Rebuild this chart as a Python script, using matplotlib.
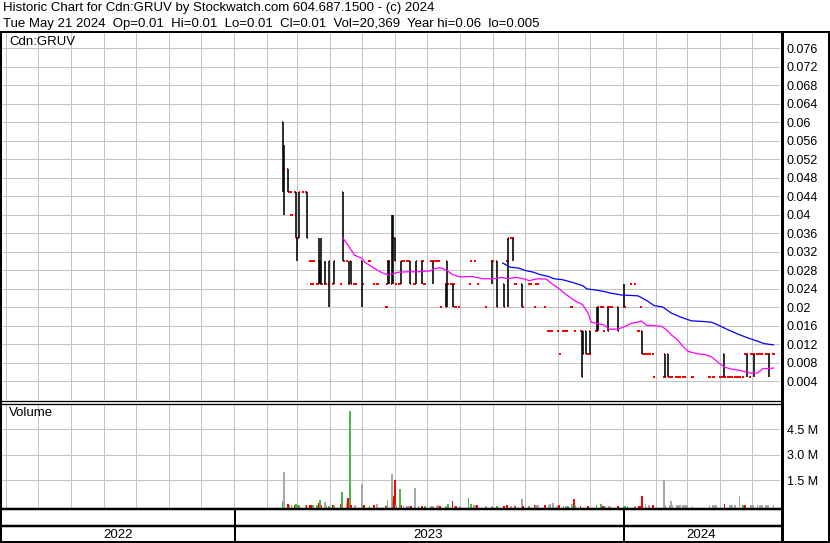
import matplotlib
matplotlib.use('Agg')
import matplotlib.pyplot as plt
import matplotlib.dates as mdates
import pandas as pd
from matplotlib.lines import Line2D

plt.rcParams['font.family'] = ['Liberation Sans', 'DejaVu Sans']

# ---------------- data ----------------
title_line1 = "Historic Chart for Cdn:GRUV by Stockwatch.com 604.687.1500 - (c) 2024"
title_line2 = "Tue May 21 2024  Op=0.01  Hi=0.01  Lo=0.01  Cl=0.01  Vol=20,369  Year hi=0.06  lo=0.005"
symbol = "Cdn:GRUV"
year_labels = ["2022", "2023", "2024"]

# daily bars with a high-low range
bar_dates = ["2023-02-16", "2023-02-17", "2023-02-21", "2023-02-28", "2023-03-01", "2023-03-03",
             "2023-03-10", "2023-03-22", "2023-03-23", "2023-03-24", "2023-03-27", "2023-03-31",
             "2023-04-05", "2023-04-13", "2023-04-19", "2023-04-21", "2023-05-01", "2023-05-25",
             "2023-05-26", "2023-05-29", "2023-05-30", "2023-06-01", "2023-06-07", "2023-06-15",
             "2023-06-21", "2023-06-26", "2023-07-07", "2023-07-19", "2023-07-20", "2023-07-25",
             "2023-08-31", "2023-09-05", "2023-09-11", "2023-09-15", "2023-09-20", "2023-09-28",
             "2023-11-23", "2023-11-24", "2023-11-27", "2023-12-01", "2023-12-07", "2023-12-08",
             "2023-12-18", "2023-12-27", "2024-01-02", "2024-01-19", "2024-02-09", "2024-02-12",
             "2024-04-05", "2024-04-26", "2024-05-03", "2024-05-17"]
bar_open = [.06, .05, .05, .04, .035, .035, .045, .025, .03, .025, .025, .025,
            .025, .045, .025, .03, .03, .025, .03, .025, .035, .035, .025, .03,
            .025, .03, .03, .025, .03, .025, .03, .03, .025, .03, .035, .025,
            .015, .015, .015, .015, .015, .015, .02, .02, .02, .015, .01, .01,
            .01, .01, .01, .01]
bar_high = [.06, .055, .05, .045, .035, .045, .045, .035, .03, .035, .03, .03,
            .03, .045, .03, .03, .03, .03, .03, .04, .04, .035, .03, .03,
            .03, .03, .03, .025, .03, .025, .03, .03, .025, .035, .035, .025,
            .015, .015, .015, .015, .02, .02, .02, .02, .025, .015, .01, .01,
            .01, .01, .01, .01]
bar_low = [.045, .04, .045, .035, .03, .035, .035, .025, .025, .025, .025, .02,
           .025, .03, .025, .025, .02, .025, .025, .025, .025, .03, .025, .025,
           .025, .025, .025, .02, .02, .02, .025, .02, .02, .02, .03, .02,
           .005, .01, .01, .01, .015, .015, .015, .015, .02, .01, .005, .005,
           .005, .005, .005, .005]
bar_close = [.05, .05, .045, .035, .035, .045, .035, .03, .025, .025, .025, .03,
             .03, .03, .025, .025, .025, .03, .03, .035, .035, .03, .03, .025,
             .03, .03, .03, .02, .025, .025, .03, .02, .02, .035, .035, .02,
             .005, .01, .01, .01, .02, .02, .015, .015, .02, .01, .005, .005,
             .005, .01, .01, .01]

# days that traded at a single price
flat_dates = ["2023-02-23", "2023-02-24", "2023-02-27", "2023-03-07", "2023-03-13", "2023-03-14",
              "2023-03-15", "2023-03-16", "2023-03-17", "2023-03-20", "2023-03-28", "2023-04-04",
              "2023-04-11", "2023-04-14", "2023-04-17", "2023-04-24", "2023-04-25", "2023-05-02",
              "2023-05-08", "2023-05-12", "2023-05-15", "2023-05-16", "2023-05-24", "2023-06-02",
              "2023-06-05", "2023-06-09", "2023-06-12", "2023-06-13", "2023-06-14", "2023-06-19",
              "2023-06-20", "2023-06-27", "2023-06-28", "2023-06-29", "2023-07-05", "2023-07-06",
              "2023-07-10", "2023-07-11", "2023-07-12", "2023-07-14", "2023-07-21", "2023-07-24",
              "2023-07-26", "2023-07-27", "2023-07-28", "2023-07-31", "2023-08-10", "2023-08-11",
              "2023-08-15", "2023-08-18", "2023-08-25", "2023-09-01", "2023-09-14", "2023-09-18",
              "2023-09-22", "2023-09-29", "2023-10-05", "2023-10-06", "2023-10-10", "2023-10-11",
              "2023-10-12", "2023-10-13", "2023-10-20", "2023-10-23", "2023-10-24", "2023-10-25",
              "2023-10-26", "2023-11-01", "2023-11-03", "2023-11-06", "2023-11-07", "2023-11-08",
              "2023-11-09", "2023-11-13", "2023-11-14", "2023-11-17", "2023-11-28", "2023-11-29",
              "2023-11-30", "2023-12-11", "2023-12-12", "2023-12-13", "2023-12-14", "2023-12-19",
              "2023-12-20", "2023-12-21", "2024-01-03", "2024-01-08", "2024-01-12", "2024-01-15",
              "2024-01-16", "2024-01-18", "2024-01-22", "2024-01-23", "2024-01-24", "2024-01-25",
              "2024-01-26", "2024-01-29", "2024-01-30", "2024-02-08", "2024-02-13", "2024-02-14",
              "2024-02-15", "2024-02-16", "2024-02-20", "2024-02-21", "2024-02-22", "2024-02-23",
              "2024-02-26", "2024-02-27", "2024-02-28", "2024-03-06", "2024-03-22", "2024-03-25",
              "2024-03-26", "2024-04-01", "2024-04-02", "2024-04-03", "2024-04-04", "2024-04-08",
              "2024-04-09", "2024-04-10", "2024-04-11", "2024-04-12", "2024-04-15", "2024-04-16",
              "2024-04-17", "2024-04-18", "2024-04-19", "2024-04-22", "2024-04-24", "2024-04-29",
              "2024-04-30", "2024-05-01", "2024-05-02", "2024-05-06", "2024-05-07", "2024-05-08",
              "2024-05-09", "2024-05-10", "2024-05-14", "2024-05-15", "2024-05-21"]
flat_price = [.045, .04, .045, .045, .03, .025, .03, .025, .03, .025, .025, .025,
              .025, .03, .03, .025, .025, .025, .03, .025, .025, .025, .02, .025,
              .025, .03, .03, .03, .03, .025, .025, .03, .025, .025, .03, .03,
              .03, .03, .03, .02, .025, .025, .025, .02, .02, .02, .025, .03,
              .03, .025, .02, .03, .03, .035, .025, .02, .025, .025, .02, .025,
              .025, .025, .02, .015, .015, .015, .015, .015, .01, .015, .015, .015,
              .015, .02, .02, .015, .01, .01, .01, .02, .02, .02, .015, .02,
              .02, .02, .02, .025, .025, .015, .015, .02, .01, .01, .01, .01,
              .01, .01, .005, .005, .005, .005, .005, .005, .005, .005, .005, .005,
              .005, .005, .005, .005, .005, .005, .005, .005, .005, .005, .005, .005,
              .005, .005, .005, .005, .005, .005, .005, .005, .005, .005, .01, .005,
              .01, .01, .01, .01, .01, .01, .01, .01, .01, .01, .01]

# moving averages
ma_short_dates = ["2023-04-13", "2023-04-19", "2023-04-24", "2023-05-01", "2023-05-04", "2023-05-13",
                  "2023-05-19", "2023-05-26", "2023-05-30", "2023-06-04", "2023-06-13", "2023-06-22",
                  "2023-07-04", "2023-07-08", "2023-07-13", "2023-07-19", "2023-07-25", "2023-08-01",
                  "2023-08-12", "2023-08-22", "2023-09-01", "2023-09-09", "2023-09-15", "2023-09-23",
                  "2023-09-29", "2023-10-05", "2023-10-13", "2023-10-21", "2023-10-25", "2023-11-01",
                  "2023-11-09", "2023-11-17", "2023-11-24", "2023-11-29", "2023-12-02", "2023-12-08",
                  "2023-12-14", "2023-12-19", "2023-12-27", "2024-01-02", "2024-01-09", "2024-01-14",
                  "2024-01-18", "2024-01-23", "2024-01-29", "2024-02-06", "2024-02-10", "2024-02-15",
                  "2024-02-21", "2024-02-26", "2024-03-02", "2024-03-10", "2024-03-18", "2024-03-24",
                  "2024-03-30", "2024-04-05", "2024-04-11", "2024-04-21", "2024-04-30", "2024-05-06",
                  "2024-05-11", "2024-05-16", "2024-05-21"]
ma_short = [.035, .0331, .0313, .0306, .0297, .0284, .0276, .027, .0273, .0276, .0277, .0277,
            .0279, .0284, .0286, .0281, .0271, .0266, .0267, .0262, .0262, .0265, .0262, .0265,
            .0262, .0258, .0262, .0261, .0253, .0242, .0227, .0214, .0206, .0188, .0168, .0165,
            .0162, .0153, .0153, .0158, .0166, .0168, .0171, .0161, .0161, .0159, .0153, .0141,
            .013, .0116, .0105, .01, .0098, .0093, .0081, .0071, .0067, .0063, .0058, .0058,
            .0068, .0068, .0069]
ma_long_dates = ["2023-09-10", "2023-09-17", "2023-09-25", "2023-10-01", "2023-10-09", "2023-10-15",
                 "2023-10-23", "2023-10-28", "2023-11-05", "2023-11-16", "2023-11-24", "2023-11-28",
                 "2023-12-08", "2023-12-17", "2023-12-20", "2023-12-30", "2024-01-15", "2024-01-23",
                 "2024-01-30", "2024-02-07", "2024-02-15", "2024-02-24", "2024-03-05", "2024-03-14",
                 "2024-03-24", "2024-03-31", "2024-04-08", "2024-04-17", "2024-04-27", "2024-05-06",
                 "2024-05-12", "2024-05-21"]
ma_long = [.0296, .0287, .0285, .028, .0276, .0271, .0267, .0262, .026, .0253, .0247, .024,
           .0237, .0233, .0231, .0227, .0225, .0215, .0204, .0201, .0188, .0179, .0171, .017,
           .0168, .0161, .0152, .0143, .0134, .0127, .0122, .0119]

# volume (millions of shares); g = up, r = down, k = unchanged
vol_dates = ["2023-02-16", "2023-02-17", "2023-02-21", "2023-02-22", "2023-02-24", "2023-02-27",
             "2023-02-28", "2023-03-01", "2023-03-03", "2023-03-09", "2023-03-10", "2023-03-13",
             "2023-03-15", "2023-03-16", "2023-03-20", "2023-03-22", "2023-03-23", "2023-03-24",
             "2023-03-27", "2023-03-28", "2023-03-31", "2023-04-04", "2023-04-05", "2023-04-11",
             "2023-04-12", "2023-04-17", "2023-04-18", "2023-04-20", "2023-04-21", "2023-04-24",
             "2023-04-25", "2023-05-01", "2023-05-02", "2023-05-03", "2023-05-08", "2023-05-12",
             "2023-05-15", "2023-05-23", "2023-05-24", "2023-05-25", "2023-05-29", "2023-05-30",
             "2023-05-31", "2023-06-01", "2023-06-02", "2023-06-06", "2023-06-07", "2023-06-09",
             "2023-06-12", "2023-06-13", "2023-06-14", "2023-06-16", "2023-06-20", "2023-06-23",
             "2023-06-26", "2023-06-29", "2023-07-05", "2023-07-06", "2023-07-07", "2023-07-10",
             "2023-07-11", "2023-07-13", "2023-07-19", "2023-07-21", "2023-07-25", "2023-07-27",
             "2023-07-28", "2023-08-01", "2023-08-09", "2023-08-11", "2023-08-14", "2023-08-15",
             "2023-08-17", "2023-08-25", "2023-08-31", "2023-09-05", "2023-09-11", "2023-09-14",
             "2023-09-18", "2023-09-21", "2023-09-22", "2023-09-28", "2023-09-29", "2023-10-05",
             "2023-10-10", "2023-10-11", "2023-10-13", "2023-10-20", "2023-10-23", "2023-10-24",
             "2023-10-27", "2023-10-31", "2023-11-02", "2023-11-06", "2023-11-08", "2023-11-10",
             "2023-11-14", "2023-11-16", "2023-11-17", "2023-11-22", "2023-11-29", "2023-12-07",
             "2023-12-11", "2023-12-13", "2023-12-15", "2023-12-19", "2023-12-20", "2023-12-27",
             "2024-01-02", "2024-01-03", "2024-01-05", "2024-01-12", "2024-01-16", "2024-01-18",
             "2024-01-19", "2024-01-22", "2024-01-25", "2024-01-29", "2024-02-08", "2024-02-09",
             "2024-02-14", "2024-02-15", "2024-02-16", "2024-02-20", "2024-02-21", "2024-02-22",
             "2024-02-23", "2024-02-26", "2024-02-27", "2024-02-28", "2024-03-01", "2024-03-06",
             "2024-03-22", "2024-03-25", "2024-03-26", "2024-03-28", "2024-04-05", "2024-04-10",
             "2024-04-11", "2024-04-12", "2024-04-15", "2024-04-19", "2024-04-22", "2024-04-24",
             "2024-04-30", "2024-05-02", "2024-05-06", "2024-05-08", "2024-05-10", "2024-05-14",
             "2024-05-16", "2024-05-21"]
vol_millions = [0.27, 1.98, 0.13, 0.02, 0.05, 0.03, 0.13, 0.03, 0.06, 0.06, 0.03, 0.05,
                0.06, 0.03, 0.03, 0.19, 0.36, 0.02, 0.25, 0.02, 0.01, 0.03, 0.01, 0.08,
                0.83, 0.19, 0.48, 5.56, 0.02, 0.06, 0.02, 1.29, 0.02, 0.02, 0.01, 0.02,
                0.13, 0.01, 0.02, 0.36, 1.86, 0.40, 0.60, 1.52, 0.02, 1.00, 0.02, 0.01,
                0.01, 0.01, 0.01, 0.01, 1.06, 0.01, 0.01, 0.01, 0.01, 0.01, 0.01, 0.01,
                0.03, 0.01, 0.01, 0.08, 0.31, 0.01, 0.01, 0.01, 0.48, 0.13, 0.02, 0.02,
                0.02, 0.01, 0.01, 0.01, 0.01, 0.03, 0.01, 0.02, 0.01, 0.42, 0.01, 0.01,
                0.02, 0.02, 0.02, 0.02, 0.05, 0.08, 0.15, 0.01, 0.02, 0.01, 0.01, 0.01,
                0.13, 0.40, 0.02, 0.01, 0.01, 0.02, 0.13, 0.01, 0.01, 0.01, 0.01, 0.01,
                0.01, 0.01, 0.01, 0.01, 0.01, 0.01, 0.57, 0.13, 0.04, 0.02, 1.52, 0.02,
                0.02, 0.29, 0.02, 0.02, 0.02, 0.02, 0.02, 0.02, 0.02, 0.02, 0.02, 0.01,
                0.02, 0.02, 0.02, 0.02, 0.13, 0.02, 0.02, 0.02, 0.02, 0.59, 0.02, 0.02,
                0.02, 0.02, 0.02, 0.02, 0.02, 0.02, 0.02, 0.02]
vol_dir = list("gkrkgrgggkrrrggrgrkkgrgrgkrgrkkkgrgrkrgkkgrrkgrkkkkrkgrgkkkkkrkgrkrkggkkrkkgrrkkrkrgrkkrkkkkrgkgkrgrrggrkkkrgggkrrrkkrkkkkkkkkkkkkkkkkkkrkkkkkgrkkkkkkkk")

price_ticks = [0.004, 0.008, 0.012, 0.016, 0.02, 0.024, 0.028, 0.032, 0.036, 0.04,
               0.044, 0.048, 0.052, 0.056, 0.06, 0.064, 0.068, 0.072, 0.076]
vol_ticks = [1.5, 3.0, 4.5]
vol_tick_labels = ["1.5 M", "3.0 M", "4.5 M"]

# ---------------- layout ----------------
W, H = 830, 543
fig = plt.figure(figsize=(W / 100, H / 100), dpi=100)
fig.patch.set_facecolor('white')


def rect(l, t, r, b):
    return [l / W, 1 - b / H, (r - l) / W, (b - t) / H]


def hline(y, x0, x1, lw_px):
    fig.add_artist(Line2D([x0 / W, x1 / W], [1 - y / H, 1 - y / H], transform=fig.transFigure,
                          color='black', lw=lw_px * 0.72, solid_capstyle='butt'))


def vline(x, y0, y1, lw_px):
    fig.add_artist(Line2D([x / W, x / W], [1 - y0 / H, 1 - y1 / H], transform=fig.transFigure,
                          color='black', lw=lw_px * 0.72, solid_capstyle='butt'))


PX_PER_DAY = 1.0663
base = mdates.date2num(pd.Timestamp("2023-01-01"))
xl = (base + (2 - 234) / PX_PER_DAY, base + (780 - 234) / PX_PER_DAY)

ax = fig.add_axes(rect(2, 33, 780, 400))
axv = fig.add_axes(rect(2, 404, 780, 508))

GRID = '#c4c4c4'
for a in (ax, axv):
    a.set_xlim(*xl)
    a.xaxis.set_major_locator(mdates.MonthLocator())
    a.grid(True, color=GRID, lw=1.0 * 0.72, antialiased=False)
    a.set_axisbelow(True)
    for s in a.spines.values():
        s.set_visible(False)
    a.tick_params(axis='x', length=0, labelbottom=False)
    a.tick_params(axis='y', length=0, labelleft=False, labelright=True, pad=5,
                  labelsize=9, labelcolor='black')
    a.set_facecolor('white')

ax.set_ylim(0.0, 0.0793)
ax.set_yticks(price_ticks)
ax.set_yticklabels([f"{t:g}" for t in price_ticks])

axv.set_ylim(-0.13, 5.98)
axv.set_yticks(vol_ticks)
axv.set_yticklabels(vol_tick_labels)

# ---------------- price bars ----------------
bx = mdates.date2num(pd.to_datetime(bar_dates))
fx_ = mdates.date2num(pd.to_datetime(flat_dates))
RED = '#ff0000'
TW = 1.05
tick_lw = 2 * 0.72
for x, o, h, l, c in zip(bx, bar_open, bar_high, bar_low, bar_close):
    ax.plot([x - TW, x], [o, o], color=RED, lw=tick_lw, solid_capstyle='butt', zorder=3)
    ax.plot([x, x + TW], [c, c], color=RED, lw=tick_lw, solid_capstyle='butt', zorder=3)
ax.vlines(bx, bar_low, bar_high, color='black', lw=1.6 * 0.72, zorder=4)
for x, p in zip(fx_, flat_price):
    ax.plot([x - TW, x + TW], [p, p], color=RED, lw=tick_lw, solid_capstyle='butt', zorder=3)

ax.plot(mdates.date2num(pd.to_datetime(ma_short_dates)), ma_short, color='#ff00ff', lw=0.9, zorder=5)
ax.plot(mdates.date2num(pd.to_datetime(ma_long_dates)), ma_long, color='#0000ff', lw=0.9, zorder=5)

# ---------------- volume ----------------
cmap = {'g': '#4cb848', 'r': '#ff0000', 'k': '#a8a8a8'}
vx = mdates.date2num(pd.to_datetime(vol_dates))
vb = axv.get_ylim()[0]
axv.bar(vx, [v - vb for v in vol_millions], bottom=vb, width=1.7,
        color=[cmap[c] for c in vol_dir], linewidth=0, zorder=3)

# ---------------- text ----------------
fig.text(3 / W, 1 - 8.5 / H, title_line1, fontsize=9.5, va='center', ha='left')
fig.text(3 / W, 1 - 23.5 / H, title_line2, fontsize=9.5, va='center', ha='left')
fig.text(9 / W, 1 - 42 / H, symbol, fontsize=9.5, va='center', ha='left')
fig.text(9 / W, 1 - 413 / H, "Volume", fontsize=9.5, va='center', ha='left')
year_centers = [118, 428.5, 701]
for xc, lab in zip(year_centers, year_labels):
    fig.text(xc / W, 1 - 534.5 / H, lab, fontsize=9.5, va='center', ha='center')

# ---------------- frame ----------------
hline(32, 0, 830, 2)
vline(1, 31, 543, 2)
vline(781.5, 31, 542, 3)
vline(828.5, 31, 543, 2)
hline(401, 0, 781, 1.3)
hline(403.5, 0, 781, 1.3)
hline(509, 0, 781, 2.5)
hline(526, 0, 781, 2.5)
hline(541.5, 0, 830, 2)
vline(234.5, 509, 542, 2)
vline(623.5, 509, 542, 2)

fig.savefig("out.png", dpi=100, facecolor='white')
